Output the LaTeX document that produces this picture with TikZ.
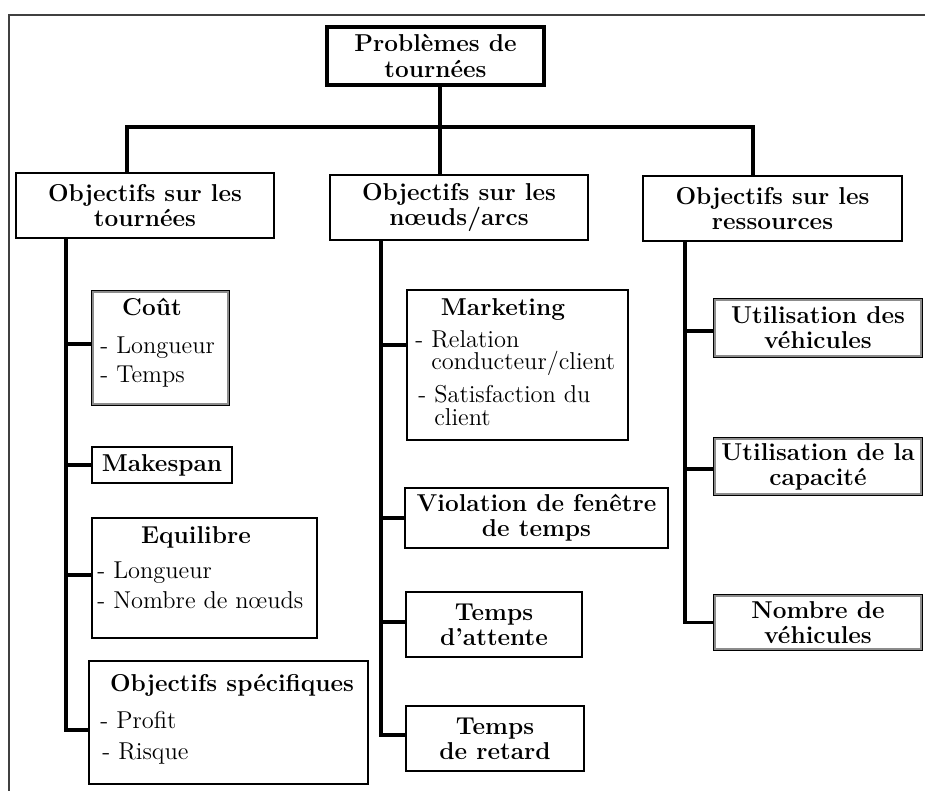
\documentclass[tikz,border=0pt]{standalone}
\usepackage{fontspec}
\usetikzlibrary{calc}

\begin{document}
\begin{tikzpicture}[x=0.5pt,y=-0.5pt,
  box/.style={draw=black,line width=1.15pt,inner sep=0pt,align=center,
    font=\bfseries\fontsize{12.2}{12.6}\selectfont},
  topbox/.style={box,line width=1.8pt},
  link/.style={line width=1.6pt,line join=miter},
  frameline/.style={draw=black!75,line width=0.6pt},
  innerline/.style={draw=black!45,line width=0.7pt},
  ttl/.style={anchor=base,inner sep=0pt,font=\bfseries\fontsize{12.2}{12.6}\selectfont},
  item/.style={anchor=base west,inner sep=0pt,font=\fontsize{12.2}{14}\selectfont}]

\useasboundingbox (0,0) rectangle (925,791);

% page frame
\draw[frameline] (9,791) -- (9,15) -- (925,15);

% root and first level
\node[topbox,minimum width=108.5pt,minimum height=29pt] (top) at (435.5,56) {Problèmes de\\tournées};
\node[box,minimum width=129pt,minimum height=32.5pt] (L1) at (145,205.5) {Objectifs sur les\\tournées};
\node[box,minimum width=129pt,minimum height=32.5pt] (M1) at (459,207.5) {Objectifs sur les\\nœuds/arcs};
\node[box,minimum width=129.5pt,minimum height=32.5pt] (R1) at (772.5,208.5) {Objectifs sur les\\ressources};

% left column
\node[box,minimum width=68.5pt,minimum height=57pt] (cout) at (160.5,348) {};
\node[ttl] (coutT) at (152,315) {Coût};
\node[item] (cout1) at (100,353) {- Longueur};
\node[item] (cout2) at (100,382) {- Temps};

\node[box,minimum width=70pt,minimum height=18pt] (mksp) at (162,465) {Makespan};

\node[box,minimum width=112.5pt,minimum height=60pt] (equi) at (204.5,578) {};
\node[ttl] (equiT) at (196,543) {Equilibre};
\node[item] (equi1) at (97,578) {- Longueur};
\node[item] (equi2) at (97,608) {- Nombre de nœuds};

\node[box,minimum width=139.5pt,minimum height=61.5pt] (spec) at (228.5,722.5) {};
\node[ttl] (specT) at (232,691) {Objectifs spécifiques};
\node[item] (spec1) at (100,728) {- Profit};
\node[item] (spec2) at (102,759) {- Risque};

% middle column
\node[box,minimum width=110.5pt,minimum height=75pt] (mkt) at (517.5,365) {};
\node[ttl] (mktT) at (503,315) {Marketing};
\node[item] (mkt1) at (415,347)
  {\vtop{\baselineskip=11pt\lineskiplimit=0pt
    \hbox{- Relation}\hbox{\phantom{- }conducteur/client}}};
\node[item] (mkt2) at (418,402)
  {\vtop{\baselineskip=11.5pt\lineskiplimit=0pt
    \hbox{- Satisfaction du}\hbox{\phantom{- }client}}};

\node[box,minimum width=131.5pt,minimum height=30pt] (viol) at (536.5,518) {Violation de fenêtre\\de temps};
\node[box,minimum width=88pt,minimum height=32.5pt] (att) at (494,624.5) {Temps\\d'attente};
\node[box,minimum width=89pt,minimum height=32.5pt] (ret) at (495,738.5) {Temps\\de retard};

% right column
\node[box,minimum width=104pt,minimum height=29pt] (uveh) at (818,328) {Utilisation des\\véhicules};
\node[box,minimum width=104pt,minimum height=28.5pt] (ucap) at (818,466.5) {Utilisation de la\\capacité};
\node[box,minimum width=104pt,minimum height=27.5pt] (nveh) at (818,622.5) {Nombre de\\véhicules};

% inner grey rule of the double-framed boxes
\foreach \n in {cout,uveh,ucap,nveh}
  \draw[innerline] ([shift={(1.05pt,-1.05pt)}]\n.north west)
                   rectangle ([shift={(-1.05pt,1.05pt)}]\n.south east);

% top-level connectors
\coordinate (busL) at (127,127);
\coordinate (busR) at (753,127);
\draw[link] (busL |- L1.north) -- (busL) -- (busR) -- (busR |- R1.north);
\draw[link] (top.south -| 440,0) -- (M1.north -| 440,0);

% left trunk
\coordinate (lt) at (66,238);
\coordinate (specJ) at ($(spec.west)+(0,7.5)$);
\draw[link] (lt) |- (specJ);
\draw[link] ($(lt |- cout.west)+(0,-4)$) -- ($(cout.west)+(0,-4)$);
\draw[link] (lt |- mksp.west) -- (mksp.west);
\draw[link] ($(lt |- equi.west)+(0,-3)$) -- ($(equi.west)+(0,-3)$);

% middle trunk
\coordinate (mt) at (381,240);
\coordinate (retJ) at ($(ret.west)+(0,-3.5)$);
\draw[link] (mt) |- (retJ);
\draw[link] ($(mt |- mkt.west)+(0,-20)$) -- ($(mkt.west)+(0,-20)$);
\draw[link] (mt |- viol.west) -- (viol.west);
\draw[link] ($(mt |- att.west)+(0,-2.5)$) -- ($(att.west)+(0,-2.5)$);

% right trunk
\coordinate (rt) at (685,241);
\draw[link] (rt) |- (nveh.west);
\draw[link] ($(rt |- uveh.west)+(0,3)$) -- ($(uveh.west)+(0,3)$);
\draw[link] ($(rt |- ucap.west)+(0,2.5)$) -- ($(ucap.west)+(0,2.5)$);

\end{tikzpicture}
\end{document}
